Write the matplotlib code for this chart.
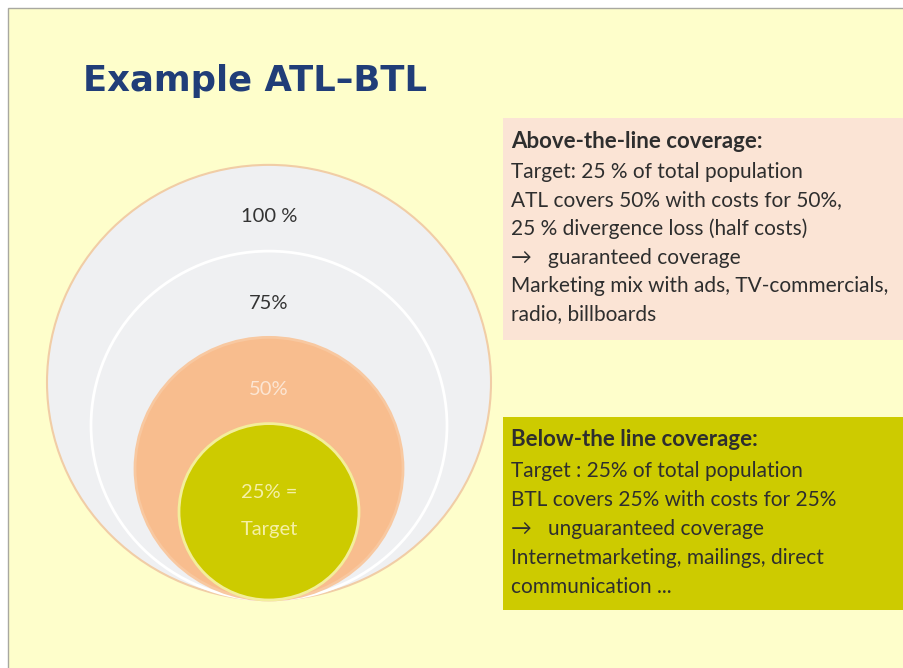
import numpy as np
import matplotlib
matplotlib.use("Agg")
import matplotlib.pyplot as plt
from matplotlib.patches import Ellipse, Rectangle


# Data
# ----

title = "Example ATL–BTL"

circle_labels = ["100 %", "75%", "50%", "25% =\nTarget"]
circle_shares = [100, 75, 50, 25]

atl_heading = "Above-the-line coverage:"
atl_lines = [
    "Target: 25 % of total population",
    "ATL covers 50% with costs for 50%,",
    "25 % divergence loss (half costs)",
    "→   guaranteed coverage",
    "Marketing mix with ads, TV-commercials,",
    "radio, billboards",
]

btl_heading = "Below-the line coverage:"
btl_lines = [
    "Target : 25% of total population",
    "BTL covers 25% with costs for 25%",
    "→   unguaranteed coverage",
    "Internetmarketing, mailings, direct",
    "communication ...",
]


# Style
# -----

W, H = 904, 668

bg_color = "#FEFECB"
title_color = "#203D78"
text_color = "#2E2E2E"

circle_fill = ["#EFF0F2", "#EFF0F2", "#F8BD8E", "#CDCB00"]
circle_edge = ["#F1CDA6", "#FFFFFF", "#F8C8A0", "#F3EE9C"]
circle_text = ["#333333", "#333333", "#FCE6D4", "#F5F0A6"]

body_font = "Lato"


if __name__ == "__main__":
    fig = plt.figure(figsize=(W / 100, H / 100), dpi=100)
    fig.patch.set_facecolor("white")
    ax = fig.add_axes([0, 0, 1, 1])
    ax.set_xlim(0, W)
    ax.set_ylim(H, 0)
    ax.axis("off")

    # Slide background
    # ----------------
    ax.add_patch(Rectangle(
        (8, 8), W, H,
        facecolor=bg_color, edgecolor="#A8A8A0", linewidth=1.0,
    ))

    ax.text(
        83, 91, title,
        fontsize=25.5, fontweight="bold", family="DejaVu Sans",
        color=title_color, va="baseline", ha="left",
    )

    # Nested coverage circles
    # -----------------------
    cx, bottom = 269, 600
    for k, share in enumerate(circle_shares):
        rx = 46 + 1.76 * share
        ry = rx * 0.98
        cy = bottom - ry
        ax.add_patch(Ellipse(
            (cx, cy), 2 * rx, 2 * ry,
            facecolor=circle_fill[k],
            edgecolor=circle_edge[k],
            linewidth=2.0 if k else 1.5,
        ))
        if k == len(circle_shares) - 1:
            ty = cy - 1
            ls = 2.4
        else:
            ty = cy - ry + 52
            ls = 1.2
        ax.text(
            cx, ty, circle_labels[k],
            fontsize=14.5, family=body_font, color=circle_text[k],
            ha="center", va="center", linespacing=ls,
        )

    # Text boxes
    # ----------
    def text_box(top, height, face, heading, lines, gap, step):
        ax.add_patch(Rectangle(
            (503, top), W, height,
            facecolor=face, edgecolor="none",
        ))
        y = top + 23
        ax.text(
            511, y, heading,
            fontsize=16, fontweight="bold", family=body_font,
            color=text_color, va="center", ha="left",
        )
        y += gap - step
        for line in lines:
            y += step
            ax.text(
                511, y, line,
                fontsize=15, family=[body_font, "DejaVu Sans"],
                color=text_color, va="center", ha="left",
            )

    text_box(118, 222, "#FBE4D5", atl_heading, atl_lines, 31, 28.5)
    text_box(417, 193, "#CDCB00", btl_heading, btl_lines, 31, 29.0)

    fig.savefig("out.png", dpi=100, facecolor=fig.get_facecolor())
